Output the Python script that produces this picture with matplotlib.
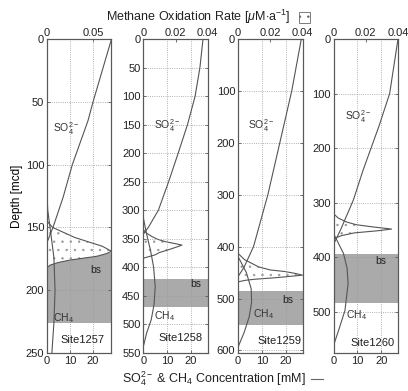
import numpy as np
import matplotlib
matplotlib.use('Agg')
import matplotlib.pyplot as plt
from matplotlib.patches import Rectangle
from matplotlib.lines import Line2D

plt.rcParams['font.family'] = ['Liberation Sans', 'DejaVu Sans']
plt.rcParams['mathtext.fontset'] = 'custom'
plt.rcParams['mathtext.rm'] = 'Liberation Sans'
plt.rcParams['mathtext.it'] = 'Liberation Sans:italic'
plt.rcParams['mathtext.bf'] = 'Liberation Sans:bold'
plt.rcParams['hatch.linewidth'] = 0.5
plt.rcParams['hatch.color'] = '0.6'

# ---- data (depth in mcd, conc in mM, rate in uM/a) ----
sites = ['1257', '1258', '1259', '1260']

so4_depth_1257 = [0, 25, 50, 65, 83, 100, 126, 150, 162]
so4_1257 = [28, 24, 20, 17.8, 14.3, 11, 7, 2.6, 0]
ch4_depth_1257 = [122, 136, 154, 174, 200, 226, 253]
ch4_1257 = [0, 0.3, 1.6, 3.0, 3.5, 3.0, 2.0]
rate_depth_1257 = [145, 150, 154, 158, 162, 165, 169, 171, 173, 176, 178, 180, 182]
rate_1257 = [0, 0.006, 0.018, 0.03, 0.047, 0.06, 0.07, 0.064, 0.054, 0.025, 0.012, 0.0035, 0]
bs_1257 = (170, 226)

so4_depth_1258 = [0, 50, 100, 150, 200, 250, 300, 330, 342]
so4_1258 = [25, 23.7, 21.7, 18.5, 14.6, 10.6, 6.3, 2.1, 0]
ch4_depth_1258 = [313, 340, 370, 399, 434, 465, 492, 515, 539]
ch4_1258 = [0, 1.3, 3.0, 4.3, 5.0, 4.5, 3.3, 1.4, 0]
rate_depth_1258 = [334, 340, 346, 351, 355, 358, 361, 365, 369, 374, 378, 384]
rate_1258 = [0, 0.002, 0.0053, 0.009, 0.0137, 0.019, 0.024, 0.02, 0.0158, 0.01, 0.0074, 0]
bs_1258 = (420, 470)

so4_depth_1259 = [0, 100, 200, 300, 400, 440, 458]
so4_1259 = [26.5, 22.5, 17.5, 12.5, 6.5, 2.5, 0]
ch4_depth_1259 = [419, 450, 481, 507, 535, 565, 594]
ch4_1259 = [0, 3.5, 5.5, 5.7, 4.7, 2.6, 0]
rate_depth_1259 = [413, 425, 439, 445, 448, 452, 455, 458, 460, 463, 465, 468]
rate_1259 = [0, 0.004, 0.0127, 0.02, 0.029, 0.036, 0.04, 0.03, 0.023, 0.01, 0.0045, 0]
bs_1259 = (485, 552)

so4_depth_1260 = [0, 100, 160, 240, 295, 350, 369, 376]
so4_1260 = [27, 23.5, 19, 12.4, 8.3, 2.9, 0.8, 0]
ch4_depth_1260 = [356, 393, 420, 448, 497, 530, 555]
ch4_1260 = [0, 4.2, 5.7, 6.1, 4.8, 2.4, 0.5]
rate_depth_1260 = [320, 328, 335, 340, 344, 348, 351, 355, 360, 364, 367]
rate_1260 = [0, 0.003, 0.008, 0.014, 0.024, 0.036, 0.028, 0.013, 0.005, 0.0015, 0]
bs_1260 = (394, 483)

so4_all = [(so4_1257, so4_depth_1257), (so4_1258, so4_depth_1258),
           (so4_1259, so4_depth_1259), (so4_1260, so4_depth_1260)]
ch4_all = [(ch4_1257, ch4_depth_1257), (ch4_1258, ch4_depth_1258),
           (ch4_1259, ch4_depth_1259), (ch4_1260, ch4_depth_1260)]
rate_all = [(rate_1257, rate_depth_1257), (rate_1258, rate_depth_1258),
            (rate_1259, rate_depth_1259), (rate_1260, rate_depth_1260)]
bs_all = [bs_1257, bs_1258, bs_1259, bs_1260]

# ---- layout per panel ----
lefts = [47, 143.3, 238, 333.5]
depth_max = [250, 550, 605, 575]
depth_step = [50, 50, 100, 100]
conc_max = [28, 27, 27, 27]
rate_max = [0.07, 0.04, 0.04, 0.04]
rate_ticks = [[0, 0.05], [0, 0.02, 0.04], [0, 0.02, 0.04], [0, 0.02, 0.04]]
rate_ticklabels = [['0', '0.05'], ['0', '0.02', '0.04'], ['0', '0.02', '0.04'], ['0', '0.02', '0.04']]
so4_lbl = [(8.5, 71), (10, 152), (9.8, 167), (10.4, 143)]
bs_lbl = [(21, 184), (22, 430), (21, 503), (20, 407)]
ch4_lbl = [(7, 222), (9, 486), (10.5, 531), (9.5, 505)]
site_lbl = [(15.6, 240), (15.6, 524), (17.5, 582), (16.4, 556)]

W, H = 408, 391
line_c = '#555555'
grey = '#aaaaaa'

fig = plt.figure(figsize=(W / 100, H / 100), dpi=100)

for i in range(4):
    ax = fig.add_axes([lefts[i] / W, (H - 353) / H, 64.5 / W, 314 / H])
    ax2 = ax.twiny()
    ax.set_zorder(2)
    ax2.set_zorder(1)
    ax.patch.set_visible(False)

    top, bot = bs_all[i]
    ax2.axhspan(top, bot, color=grey, lw=0)
    r, rd = rate_all[i]
    ax2.fill_betweenx(rd, 0, r, facecolor='white', edgecolor='0.6', hatch='..', lw=0)
    ax2.plot(r, rd, color=line_c, lw=0.8)

    s, sd = so4_all[i]
    ax.plot(s, sd, color=line_c, lw=0.8)
    c, cd = ch4_all[i]
    ax.plot(c, cd, color=line_c, lw=0.8)

    ax.set_xlim(0, conc_max[i])
    ax2.set_xlim(0, rate_max[i])
    ax.set_ylim(depth_max[i], 0)
    ax.set_yticks(np.arange(0, depth_max[i] + 1, depth_step[i]))
    ax.set_xticks([0, 10, 20])
    ax2.set_xticks(rate_ticks[i])
    ax2.set_xticklabels(rate_ticklabels[i])
    ax.grid(True, ls=':', color='0.6', lw=0.6)

    ax.tick_params(direction='in', length=2.5, width=0.6, labelsize=8, pad=2,
                   color='0.35', labelcolor='#222222', right=True)
    ax2.tick_params(direction='in', length=2.5, width=0.6, labelsize=8, pad=1,
                    color='0.35', labelcolor='#222222')
    for a in (ax, ax2):
        for sp in a.spines.values():
            sp.set_color('0.35')
            sp.set_linewidth(0.8)

    ax.text(so4_lbl[i][0], so4_lbl[i][1], r'SO$_4^{2-}$',
            fontsize=7.5, ha='center', va='center', color='#333333')
    ax.text(bs_lbl[i][0], bs_lbl[i][1], 'bs', fontsize=7.5, ha='center', va='center', color='#222222')
    ax.text(ch4_lbl[i][0], ch4_lbl[i][1], r'CH$_4$', fontsize=7.5, ha='center', va='center', color='#333333')
    ax.text(site_lbl[i][0], site_lbl[i][1], 'Site' + sites[i], fontsize=8, ha='center', va='center',
            color='#222222')

    if i == 0:
        ax.set_ylabel('Depth [mcd]', fontsize=8.5, labelpad=2)

# top legend
fig.text(198 / W, 1 - 17 / H, r'Methane Oxidation Rate [$\mu$M$\cdot$a$^{-1}$]', fontsize=9,
         ha='center', va='center', color='#222222')
fig.add_artist(Rectangle((299 / W, 1 - 23 / H), 11 / W, 11 / H, transform=fig.transFigure,
                         facecolor='white', edgecolor='0.4', hatch='..', lw=0.6))

# bottom label
fig.text(214 / W, 1 - 379 / H, r'SO$_4^{2-}$ & CH$_4$ Concentration [mM]', fontsize=9,
         ha='center', va='center', color='#222222')
fig.add_artist(Line2D([311 / W, 323 / W], [1 - 379 / H, 1 - 379 / H], transform=fig.transFigure,
                      color='0.4', lw=0.8))

fig.savefig('out.png', dpi=100)
